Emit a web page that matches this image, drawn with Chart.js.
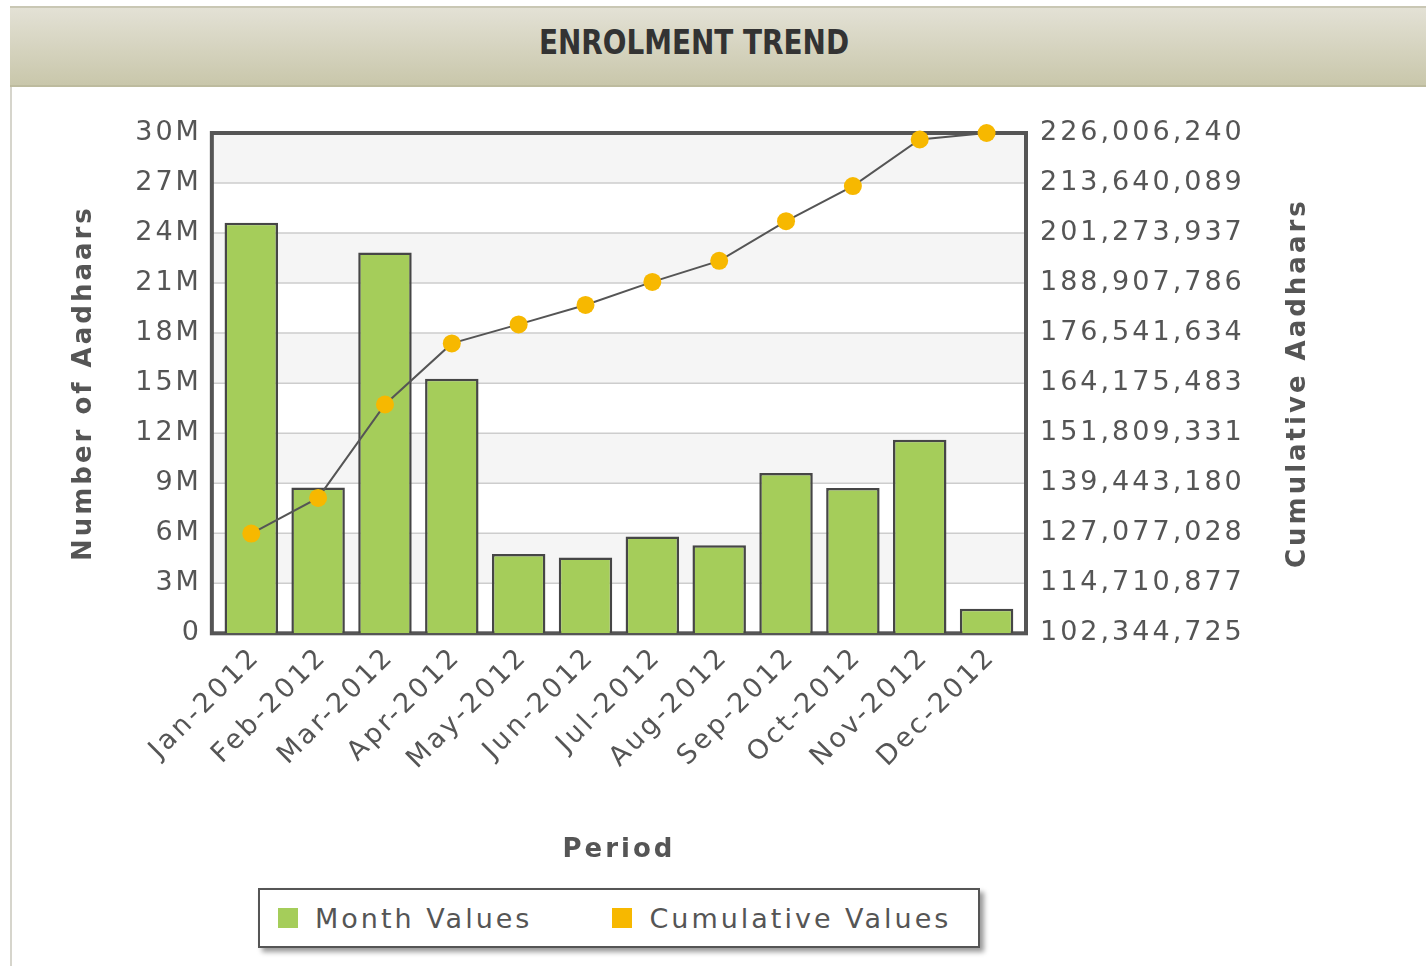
<!DOCTYPE html>
<html>
<head>
<meta charset="utf-8">
<script src="https://cdn.jsdelivr.net/npm/chart.js@4"></script>
<style>
  html, body { margin: 0; padding: 0; background: #fff; }
  body { width: 1426px; height: 966px; position: relative; overflow: hidden; }
  .panel {
    position: absolute; left: 10px; top: 6px; width: 1416px; height: 960px;
    border-left: 2px solid #d6d5cc; box-sizing: border-box;
  }
  .header {
    position: absolute; left: 10px; top: 6px; width: 1416px; height: 81px;
    box-sizing: border-box;
    border-top: 2px solid #c9c7b4;
    border-bottom: 2px solid #bdbb9e;
    background: linear-gradient(#e3e1d5, #c9c7ab);
  }
  .header span {
    position: absolute; left: 684px; top: 34px;
    transform: translate(-50%, -50%) scaleX(0.82);
    white-space: nowrap;
    font-family: "DejaVu Sans", sans-serif;
    font-weight: bold; font-size: 34px; color: #333;
  }
  .chart-box { position: absolute; left: 0px; top: 88px; width: 1426px; height: 790px; }
  .legend {
    position: absolute; left: 258px; top: 888px; width: 722px; height: 60px;
    box-sizing: border-box; border: 2px solid #555; background: #fff;
    box-shadow: 4px 4px 5px #9a9a9a;
    font-family: "DejaVu Sans", Verdana, sans-serif; font-size: 27px;
    letter-spacing: 3px; color: #555;
    display: flex; align-items: center; padding-left: 18px;
  }
  .legend .item { display: flex; align-items: center; }
  .legend .item + .item { margin-left: 80px; }
  .legend .swatch { width: 20px; height: 20px; margin-right: 17px; }
</style>
</head>
<body>
<div class="panel"></div>
<div class="header"><span>ENROLMENT TREND</span></div>
<div class="chart-box"><canvas id="trendChart"></canvas></div>
<div class="legend" id="legend"></div>
<script>
document.addEventListener("DOMContentLoaded", function() {
    const ctx = document.getElementById("trendChart")

    const months = ['Jan-2012', 'Feb-2012', 'Mar-2012', 'Apr-2012', 'May-2012', 'Jun-2012',
        'Jul-2012', 'Aug-2012', 'Sep-2012', 'Oct-2012', 'Nov-2012', 'Dec-2012']
    const monthValues = [24620000, 8740000, 22840000, 15260000, 4760000, 4540000,
        5800000, 5280000, 9620000, 8720000, 11600000, 1480000]
    const cumulativeValues = [127000000, 135800000, 158900000, 174000000, 178700000, 183500000,
        189200000, 194400000, 204200000, 212900000, 224400000, 226006240]
    const leftTicks = [0, 3000000, 6000000, 9000000, 12000000, 15000000,
        18000000, 21000000, 24000000, 27000000, 30000000]
    const rightTicks = [102344725, 114710877, 127077028, 139443180, 151809331, 164175483,
        176541634, 188907786, 201273937, 213640089, 226006240]
    const seriesNames = ['Month Values', 'Cumulative Values']
    const seriesColors = ['#a5cd5a', '#f7b800']

    const textColor = '#555'
    const fontFamily = "'DejaVu Sans', Verdana, sans-serif"
    const spacing = '3px'
    const inset = 6   // the frame sits a little outside the first / last category
    const rightTitle = { text: 'Cumulative Aadhaars', size: 26, padTop: 46 }

    // plot bands, grid and frame, the wide letter spacing of the original,
    // and the right axis title read bottom-to-top like the left one
    const plotDecor = {
        id: 'plotDecor',
        beforeUpdate(chart) {
            chart.ctx.letterSpacing = spacing
        },
        beforeDraw(chart) {
            const { ctx, chartArea: a, scales: { y } } = chart
            const left = a.left - inset
            const width = a.right - a.left + inset * 2
            ctx.letterSpacing = spacing
            ctx.save()
            for (let i = 0; i < leftTicks.length - 1; i++) {
                const top = y.getPixelForValue(leftTicks[i + 1])
                const bottom = y.getPixelForValue(leftTicks[i])
                ctx.fillStyle = i % 2 ? '#f5f5f5' : '#ffffff'
                ctx.fillRect(left, top, width, bottom - top)
            }
            ctx.strokeStyle = '#cdcdcd'
            ctx.lineWidth = 1.5
            leftTicks.forEach(v => {
                const py = y.getPixelForValue(v)
                ctx.beginPath()
                ctx.moveTo(left, py)
                ctx.lineTo(left + width, py)
                ctx.stroke()
            })
            ctx.restore()
        },
        beforeDatasetsDraw(chart) {
            const { ctx, chartArea: a } = chart
            ctx.save()
            ctx.strokeStyle = '#555'
            ctx.lineWidth = 4
            ctx.strokeRect(a.left - inset, a.top, a.right - a.left + inset * 2, a.bottom - a.top)
            ctx.restore()
        },
        afterDraw(chart) {
            const { ctx, scales: { y1 } } = chart
            const x = y1.right - rightTitle.padTop - rightTitle.size * 0.6
            const yMid = (y1.top + y1.bottom) / 2
            ctx.save()
            ctx.translate(x, yMid)
            ctx.rotate(-Math.PI / 2)
            ctx.font = `bold ${rightTitle.size}px ${fontFamily}`
            ctx.fillStyle = textColor
            ctx.textAlign = 'center'
            ctx.textBaseline = 'middle'
            ctx.fillText(rightTitle.text, 0, 0)
            ctx.restore()
        }
    }

    const data = {
        labels: months,
        datasets: [
            {
                type: 'bar',
                label: seriesNames[0],
                data: monthValues,
                backgroundColor: seriesColors[0],
                borderColor: '#464646',
                borderWidth: 2.5,
                categoryPercentage: 1,
                barPercentage: 0.8,
                yAxisID: 'y',
                order: 1,
            },
            {
                type: 'line',
                label: seriesNames[1],
                data: cumulativeValues,
                borderColor: '#555',
                borderWidth: 2,
                pointRadius: 9,
                pointBorderWidth: 0,
                pointBackgroundColor: seriesColors[1],
                pointBorderColor: seriesColors[1],
                tension: 0,
                clip: false,
                yAxisID: 'y1',
                order: 0,
            }
        ]
    }

    const config = {
        data: data,
        options: {
            responsive: true,
            maintainAspectRatio: false,
            animation: false,
            layout: {
                padding: { top: 45, left: 0, right: 66, bottom: 12 }
            },
            scales: {
                x: {
                    grid: { display: false },
                    border: { display: false },
                    ticks: {
                        color: textColor,
                        minRotation: 45,
                        maxRotation: 45,
                        padding: 0,
                        labelOffset: 5,
                        font: { size: 27, family: fontFamily }
                    },
                    title: {
                        display: true,
                        text: 'Period',
                        color: textColor,
                        padding: { top: 59, bottom: 0 },
                        font: { size: 26, weight: 'bold', family: fontFamily }
                    }
                },
                y: {
                    position: 'left',
                    min: leftTicks[0],
                    max: leftTicks[leftTicks.length - 1],
                    afterBuildTicks: (scale) => {
                        scale.ticks = leftTicks.map(v => ({ value: v }))
                    },
                    grid: { display: false, drawTicks: false },
                    border: { display: false },
                    ticks: {
                        color: textColor,
                        padding: 10 + inset,
                        font: { size: 27, family: fontFamily },
                        callback: (v) => v === 0 ? '0' : (v / 1000000) + 'M'
                    },
                    title: {
                        display: true,
                        text: 'Number of Aadhaars',
                        color: textColor,
                        padding: { top: 69, bottom: 19 },
                        font: { size: 26, weight: 'bold', family: fontFamily }
                    }
                },
                y1: {
                    position: 'right',
                    min: rightTicks[0],
                    max: rightTicks[rightTicks.length - 1],
                    afterBuildTicks: (scale) => {
                        scale.ticks = rightTicks.map(v => ({ value: v }))
                    },
                    grid: { display: false, drawTicks: false },
                    border: { display: false },
                    ticks: {
                        color: textColor,
                        padding: 14 + inset,
                        font: { size: 27, family: fontFamily },
                        callback: (v) => Math.round(v).toLocaleString('en-US')
                    },
                    title: {
                        // keeps the room; the text itself is drawn in plotDecor
                        display: true,
                        text: rightTitle.text,
                        color: 'rgba(0,0,0,0)',
                        padding: { top: rightTitle.padTop, bottom: 60 },
                        font: { size: rightTitle.size, weight: 'bold', family: fontFamily }
                    }
                }
            },
            plugins: {
                legend: { display: false },
                tooltip: { enabled: false }
            }
        },
        plugins: [plotDecor]
    }

    new Chart(ctx, config)

    // legend box under the chart
    const legendEl = document.getElementById('legend')
    seriesNames.forEach((name, i) => {
        const item = document.createElement('div')
        item.className = 'item'
        const sw = document.createElement('span')
        sw.className = 'swatch'
        sw.style.background = seriesColors[i]
        const label = document.createElement('span')
        label.textContent = name
        item.appendChild(sw)
        item.appendChild(label)
        legendEl.appendChild(item)
    })
});
</script>
</body>
</html>
